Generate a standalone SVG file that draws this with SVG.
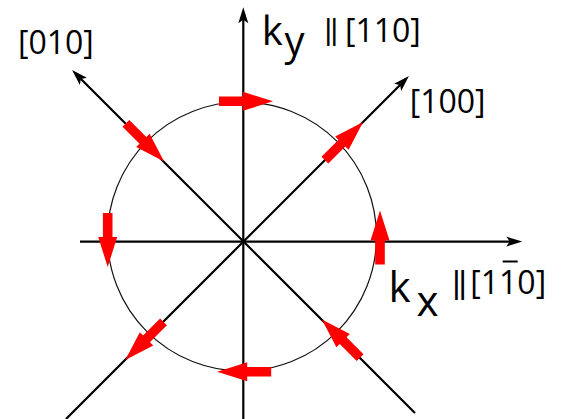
<svg xmlns="http://www.w3.org/2000/svg" width="561" height="419" viewBox="0 0 561 419">
<style>
.axis{stroke:#000;stroke-width:2.2;fill:none}
.circ{stroke:#111;stroke-width:1.2;fill:none}
.lbl{font-family:"Open Sans","Liberation Sans",Arial,sans-serif;fill:#000}
.bar{font-family:"Liberation Sans",Arial,sans-serif;fill:#000}
.spin{fill:#ff0000}
</style>
<defs>
<marker id="ah" viewBox="-17 -6 18 12" markerWidth="18" markerHeight="12" refX="-8" refY="0" orient="auto" markerUnits="userSpaceOnUse">
<path d="M0,0 L-16,-5 L-12.5,0 L-16,5 Z" fill="#000"/>
</marker>
<path id="sp" d="M-27,-4.8 H-3 V-9.5 L27,0 L-3,9.5 V4.8 H-27 Z"/>
</defs>
<g id="circle"><circle class="circ" cx="242" cy="236.5" r="134.5"/></g>
<g id="connectors">
<line class="axis" x1="243.3" y1="419" x2="243.3" y2="15.3" marker-end="url(#ah)"/>
<line class="axis" x1="80" y1="241.6" x2="514.3" y2="241.6" marker-end="url(#ah)"/>
<line class="axis" x1="66" y1="419" x2="403.3" y2="81.7" marker-end="url(#ah)"/>
<line class="axis" x1="415" y1="413" x2="77.7" y2="75.7" marker-end="url(#ah)"/>
</g>
<g id="spins" class="spin">
<use href="#sp" transform="translate(246,101.3)"/>
<use href="#sp" transform="translate(244.2,371.8) rotate(180)"/>
<use href="#sp" transform="translate(107.7,240) rotate(90)"/>
<use href="#sp" transform="translate(380,237.5) rotate(-90)"/>
<use href="#sp" transform="translate(344,141) rotate(-45)"/>
<use href="#sp" transform="translate(145,142.5) rotate(45)"/>
<use href="#sp" transform="translate(144.4,341) rotate(135)"/>
<use href="#sp" transform="translate(341,338.5) rotate(-135)"/>
</g>
<g id="label-ky">
<text class="lbl" x="261.7" y="45" font-size="40">k</text>
<text class="lbl" x="284.5" y="54.7" font-size="40">y</text>
<text class="bar" x="324.5" y="39.7" font-size="29" letter-spacing="-1.5">||</text>
<text class="lbl" x="345" y="41.6" font-size="32">[110]</text>
</g>
<g id="label-kx">
<text class="lbl" x="388.5" y="301.7" font-size="42">k</text>
<text class="lbl" x="416.5" y="315.8" font-size="42">x</text>
<text class="bar" x="452.3" y="293.4" font-size="32" letter-spacing="-2">||</text>
<text class="lbl" x="470.3" y="294" font-size="32">[110]</text>
<line x1="502.7" y1="261.5" x2="517.7" y2="261.5" stroke="#000" stroke-width="2"/>
</g>
<g id="label-010"><text class="lbl" x="18" y="54.3" font-size="32">[010]</text></g>
<g id="label-100"><text class="lbl" x="409.7" y="113.3" font-size="32">[100]</text></g>
</svg>
